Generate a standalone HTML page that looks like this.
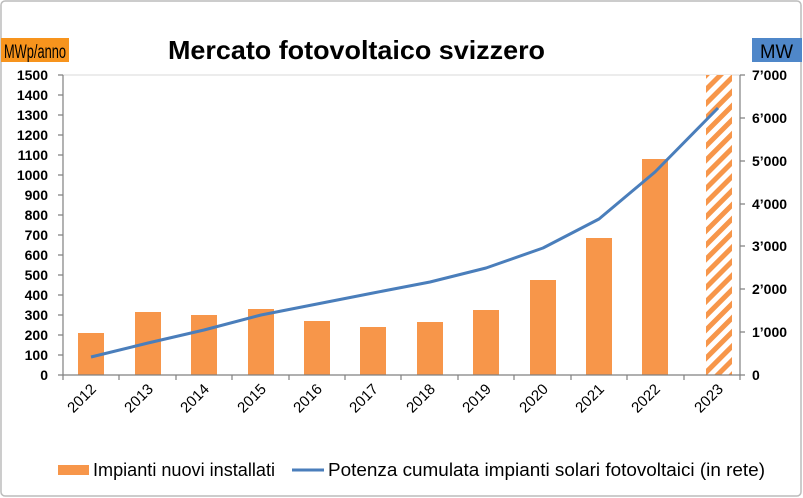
<!DOCTYPE html>
<html><head><meta charset="utf-8"><style>
body{margin:0;background:#fff;}
svg{display:block;font-family:"Liberation Sans",Arial,sans-serif;}
</style></head><body>
<svg width="803" height="498" viewBox="0 0 803 498">
<defs>
<pattern id="h" patternUnits="userSpaceOnUse" width="10" height="10" patternTransform="rotate(45)">
<rect width="10" height="10" fill="#fff"/><rect width="5" height="10" fill="#f7964a"/>
</pattern>
</defs>
<rect x="1" y="1" width="800" height="495" rx="4" fill="#fff" stroke="#bcbcbc" stroke-width="1.5"/>
<rect x="1" y="38" width="68" height="24" fill="#f7941d"/>
<text x="4" y="58" font-size="19" textLength="62" lengthAdjust="spacingAndGlyphs" fill="#000">MWp/anno</text>
<rect x="752" y="38" width="50" height="24" fill="#4f87c9"/>
<text x="760" y="58" font-size="19" textLength="33" lengthAdjust="spacingAndGlyphs" fill="#000">MW</text>
<text x="168" y="59" font-size="26" font-weight="bold" textLength="377" lengthAdjust="spacingAndGlyphs">Mercato fotovoltaico svizzero</text>
<line x1="63" y1="75" x2="740" y2="75" stroke="#d9d9d9"/>
<g font-size="14" font-weight="bold" text-anchor="end">
<text x="48" y="380">0</text><text x="48" y="360">100</text><text x="48" y="340">200</text><text x="48" y="320">300</text><text x="48" y="300">400</text><text x="48" y="280">500</text><text x="48" y="260">600</text><text x="48" y="240">700</text><text x="48" y="220">800</text><text x="48" y="200">900</text><text x="48" y="180">1000</text><text x="48" y="160">1100</text><text x="48" y="140">1200</text><text x="48" y="120">1300</text><text x="48" y="100">1400</text><text x="48" y="80">1500</text>
</g>
<g font-size="14" font-weight="bold" text-anchor="start">
<text x="752" y="380">0</text><text x="752" y="337">1’000</text><text x="752" y="294">2’000</text><text x="752" y="251">3’000</text><text x="752" y="209">4’000</text><text x="752" y="166">5’000</text><text x="752" y="123">6’000</text><text x="752" y="80">7’000</text>
</g>
<g fill="#f7964a">
<rect x="78" y="333" width="26" height="42"/>
<rect x="135" y="312" width="26" height="63"/>
<rect x="191" y="315" width="26" height="60"/>
<rect x="248" y="309" width="26" height="66"/>
<rect x="304" y="321" width="26" height="54"/>
<rect x="360" y="327" width="26" height="48"/>
<rect x="417" y="322" width="26" height="53"/>
<rect x="473" y="310" width="26" height="65"/>
<rect x="530" y="280" width="26" height="95"/>
<rect x="586" y="238" width="26" height="137"/>
<rect x="642" y="159" width="26" height="216"/>
</g>
<rect x="706" y="75" width="26" height="300" fill="url(#h)"/>
<g stroke="#808080" stroke-width="1.2">
<line x1="63" y1="75" x2="63" y2="375"/>
<line x1="740" y1="75" x2="740" y2="375"/>
<line x1="63" y1="375" x2="740" y2="375"/>
<path d="M58 375h5M58 355h5M58 335h5M58 315h5M58 295h5M58 275h5M58 255h5M58 235h5M58 215h5M58 195h5M58 175h5M58 155h5M58 135h5M58 115h5M58 95h5M58 75h5"/>
<path d="M740 375h5M740 332h5M740 289h5M740 246h5M740 204h5M740 161h5M740 118h5M740 75h5"/>
<path d="M63 375v5M119 375v5M176 375v5M232 375v5M289 375v5M345 375v5M401 375v5M458 375v5M514 375v5M571 375v5M627 375v5M684 375v5M740 375v5"/>
</g>
<polyline fill="none" stroke="#4a7ebb" stroke-width="3" stroke-linejoin="round" points="91,357 148,343 204,330 261,315 317,304 373,293 430,282 486,268 543,248 599,219 655,172 718,108"/>
<g font-size="15" text-anchor="end">
<text transform="translate(97,390) rotate(-45)">2012</text>
<text transform="translate(154,390) rotate(-45)">2013</text>
<text transform="translate(210,390) rotate(-45)">2014</text>
<text transform="translate(267,390) rotate(-45)">2015</text>
<text transform="translate(323,390) rotate(-45)">2016</text>
<text transform="translate(379,390) rotate(-45)">2017</text>
<text transform="translate(436,390) rotate(-45)">2018</text>
<text transform="translate(492,390) rotate(-45)">2019</text>
<text transform="translate(549,390) rotate(-45)">2020</text>
<text transform="translate(605,390) rotate(-45)">2021</text>
<text transform="translate(661,390) rotate(-45)">2022</text>
<text transform="translate(724,390) rotate(-45)">2023</text>
</g>
<rect x="58" y="465" width="31" height="10" fill="#f7964a"/>
<text x="93" y="476" font-size="18" textLength="182" lengthAdjust="spacingAndGlyphs">Impianti nuovi installati</text>
<line x1="292" y1="470" x2="324" y2="470" stroke="#4a7ebb" stroke-width="3"/>
<text x="328" y="476" font-size="18" textLength="437" lengthAdjust="spacingAndGlyphs">Potenza cumulata impianti solari fotovoltaici (in rete)</text>
</svg>
</body></html>
